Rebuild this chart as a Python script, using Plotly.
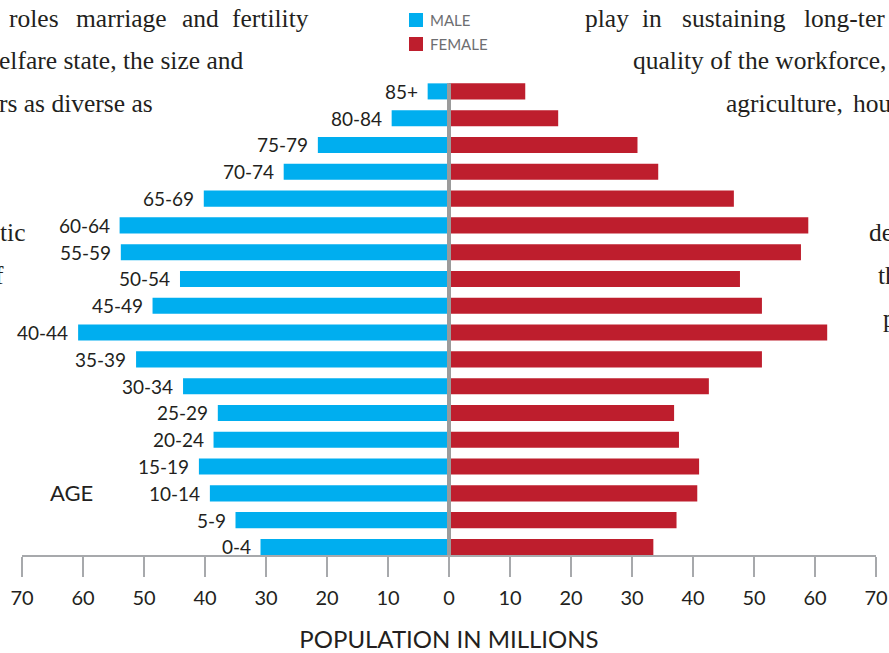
import plotly.graph_objects as go

age_groups = ["0-4", "5-9", "10-14", "15-19", "20-24", "25-29", "30-34", "35-39",
              "40-44", "45-49", "50-54", "55-59", "60-64", "65-69", "70-74",
              "75-79", "80-84", "85+"]
male = [30.9, 35.0, 39.2, 41.0, 38.6, 37.9, 43.6, 51.3, 60.8, 48.6, 44.1,
        53.8, 54.0, 40.2, 27.1, 21.5, 9.4, 3.5]
female = [33.5, 37.3, 40.7, 41.0, 37.7, 36.9, 42.6, 51.3, 62.0, 51.3, 47.7,
          57.7, 58.9, 46.7, 34.3, 30.9, 17.9, 12.5]
tick_vals = [-70, -60, -50, -40, -30, -20, -10, 0, 10, 20, 30, 40, 50, 60, 70]
tick_text = [str(abs(v)) for v in tick_vals]
series_names = ["MALE", "FEMALE"]

SANS = "Lato, 'Open Sans', sans-serif"
SERIF = "'Liberation Serif', 'DejaVu Serif', serif"
BLUE = "#00AEEF"
RED = "#BE1E2D"
INK = "#231f20"

W, H = 889, 653
L, R, T, B = 22, 13, 78, 98
pw, ph = W - L - R, H - T - B


def px_to_paper(x, y):
    return (x - L) / pw, 1 - (y - T) / ph


fig = go.Figure()
fig.add_trace(go.Bar(y=age_groups, x=[-v for v in male], orientation="h",
                     name=series_names[0], marker=dict(color=BLUE, line=dict(width=0))))
fig.add_trace(go.Bar(y=age_groups, x=female, orientation="h",
                     name=series_names[1], marker=dict(color=RED, line=dict(width=0))))

# age labels next to male bar ends
for cat, v in zip(age_groups, male):
    fig.add_annotation(x=-v, y=cat, text=cat, showarrow=False, xanchor="right",
                       xshift=-8, font=dict(family=SANS, size=19, color=INK))

# center divider
fig.add_shape(type="line", x0=0, x1=0, y0=-0.3, y1=17.3, xref="x", yref="y",
              line=dict(color="#9b9b9b", width=4))

# "AGE" label
ax, ay = px_to_paper(71, 492)
fig.add_annotation(x=ax, y=ay, xref="paper", yref="paper", text="AGE",
                   showarrow=False, xanchor="center", yanchor="middle",
                   font=dict(family=SANS, size=22, color=INK))

# manual legend (swatch + label)
for i, (nm, col) in enumerate(zip(series_names, [BLUE, RED])):
    yc = 20 + 24 * i
    x0, y0 = px_to_paper(409, yc - 7)
    x1, y1 = px_to_paper(423, yc + 7)
    fig.add_shape(type="rect", xref="paper", yref="paper", x0=x0, x1=x1, y0=y0, y1=y1,
                  fillcolor=col, line=dict(width=0))
    tx, ty = px_to_paper(428, yc)
    fig.add_annotation(x=tx, y=ty, xref="paper", yref="paper", text=nm, showarrow=False,
                       xanchor="left", yanchor="middle",
                       font=dict(family=SANS, size=15, color="#6d6e71"))

# background page text (visible fragments of the surrounding paragraph)
bg = [
    ("roles", 7, 19, "left"), ("marriage", 74, 19, "left"), ("and", 180, 19, "left"),
    ("fertility", 230, 19, "left"),
    ("elfare state, the size and", 245, 61, "right"),
    ("rs as diverse as", 155, 104, "right"),
    ("tic", 28, 232, "right"),
    ("f", 6, 275, "right"),
    ("play", 583, 19, "left"), ("in", 640, 19, "left"), ("sustaining", 680, 19, "left"),
    ("long-ter", 802, 19, "left"),
    ("quality of the workforce,", 631, 61, "left"),
    ("agriculture,", 724, 104, "left"), ("hou", 851, 104, "left"),
    ("de", 867, 232, "left"),
    ("th", 876, 275, "left"),
    ("p", 881, 318, "left"),
]
for txt, x, y, anc in bg:
    px, py = px_to_paper(x, y)
    fig.add_annotation(x=px, y=py, xref="paper", yref="paper", text=txt,
                       showarrow=False, xanchor=anc, yanchor="middle",
                       font=dict(family=SERIF, size=25.5, color=INK))

fig.update_layout(
    width=W, height=H,
    margin=dict(l=L, r=R, t=T, b=B, autoexpand=False),
    plot_bgcolor="white", paper_bgcolor="white",
    barmode="overlay", bargap=0.4,
    showlegend=False,
    xaxis=dict(range=[-70, 70], tickvals=tick_vals, ticktext=tick_text,
               ticks="outside", ticklen=20, tickwidth=1.5, tickcolor="#a7a9ac",
               showline=True, linecolor="#a7a9ac", linewidth=1.5,
               showgrid=False, zeroline=False,
               tickfont=dict(family=SANS, size=20, color=INK),
               ticklabelstandoff=4,
               title=dict(text="POPULATION IN MILLIONS", standoff=26,
                          font=dict(family=SANS, size=24, color=INK))),
    yaxis=dict(range=[-0.3, 17.5], showticklabels=False, showgrid=False,
               zeroline=False, showline=False, ticks=""),
)

fig.write_html("out.html", config={"displayModeBar": False},
               post_script="document.body.style.margin='0';document.body.style.overflow='hidden';")
